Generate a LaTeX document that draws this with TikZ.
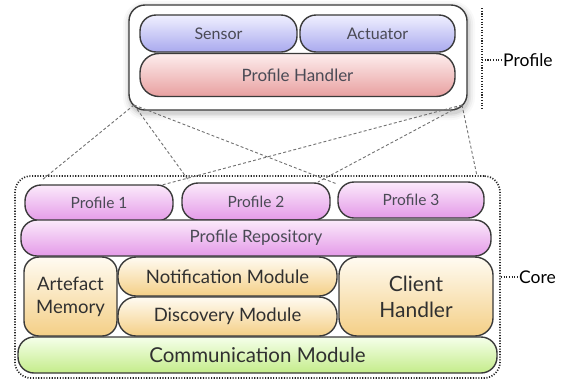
\documentclass[tikz,border=0pt]{standalone}
\usepackage{fontspec}
\setmainfont{Lato}
\usetikzlibrary{calc}
\definecolor{bordc}{HTML}{3A3A3A}
\definecolor{blueT}{HTML}{F0F0FF}
\definecolor{blueB}{HTML}{A9A9EE}
\definecolor{redT}{HTML}{FDEDED}
\definecolor{redB}{HTML}{E8A0A0}
\definecolor{pinkT}{HTML}{FBEAFB}
\definecolor{pinkB}{HTML}{E49AE8}
\definecolor{yelT}{HTML}{FFFBF2}
\definecolor{yelB}{HTML}{F4CF86}
\definecolor{grnT}{HTML}{F5FFEA}
\definecolor{grnB}{HTML}{C4EC8A}
\definecolor{txtA}{HTML}{4A4A55}
\definecolor{txtB}{HTML}{303030}
\definecolor{dashc}{HTML}{707070}
\begin{document}
\begin{tikzpicture}[x=1pt,y=-1pt,
  blk/.style={draw=bordc, line width=1.4pt, rounded corners=16pt, inner sep=0pt, align=center},
  bluebox/.style={blk, top color=blueT, bottom color=blueB, text=txtA, font=\fontsize{16}{18}\selectfont},
  redbox/.style={blk, top color=redT, bottom color=redB, text=txtA, font=\fontsize{17}{19}\selectfont, rounded corners=19pt},
  pinkbox/.style={blk, top color=pinkT, bottom color=pinkB, text=txtA, font=\fontsize{15.5}{17}\selectfont},
  yelbox/.style={blk, top color=yelT, bottom color=yelB, text=txtB},
  grnbox/.style={blk, top color=grnT, bottom color=grnB, text=txtB, font=\fontsize{20.5}{22}\selectfont},
  dotline/.style={draw=black!85, line width=1.7pt, dash pattern=on 1.1pt off 1.6pt},
  conn/.style={draw=dashc, line width=0.9pt, dash pattern=on 3pt off 2.2pt},
  lbl/.style={inner sep=0pt, anchor=west, text=black, font=\fontsize{17.5}{19}\selectfont}
]
\useasboundingbox (0,0) rectangle (561,381);

% shadow / glow of the profile block
\foreach \i/\o in {7/0.025,5/0.035,3/0.05,1.5/0.07}{
  \fill[black, opacity=\o, rounded corners=16pt+\i pt]
    (129-\i+1,5-\i+3) rectangle (467+\i+1,110+\i+3);
}
\node[draw=bordc, line width=1.4pt, fill=white, rounded corners=16pt,
  minimum width=338pt, minimum height=105pt, inner sep=0pt] (prof) at (298,57.5) {};

\node[bluebox, minimum width=157pt, minimum height=37pt] (sensor) at (218.5,33.5) {Sensor};
\node[bluebox, minimum width=155pt, minimum height=37pt] (act) at (377.5,33.5) {Actuator};
\node[redbox, minimum width=315pt, minimum height=43pt] (ph) at (297.5,75) {Profile Handler};

% Profile bracket
\coordinate (pt) at (482,8);
\coordinate (pb) at (482,108);
\draw[dotline] (pt) -- (pb);
\node[lbl] (plbl) at (503,60) {Profile};
\draw[dotline] (482,60) -- (plbl.west);

% core dotted box
\node[dotline, rounded corners=16pt, minimum width=485pt, minimum height=202pt, inner sep=0pt] (core) at (257.5,277) {};
\node[lbl] (clbl) at (519,277) {Core};
\draw[dotline] (core.east) -- (clbl.west);

% connector coordinates
\coordinate (L) at (134,105);
\coordinate (R) at (462,105);
\coordinate (e1) at (42,180);
\coordinate (e2) at (189,181);
\coordinate (e3) at (337,184);
\coordinate (f1) at (162,185);
\coordinate (f2) at (318,182);
\coordinate (f3) at (477,176);
\draw[conn] (L) -- (e1);
\draw[conn] (L) -- (e2);
\draw[conn] (L) -- (e3);
\draw[conn] (R) -- (f1);
\draw[conn] (R) -- (f2);
\draw[conn] (R) -- (f3);

% core modules
\node[pinkbox, minimum width=148pt, minimum height=36pt] (p1) at (99,203) {Profile 1};
\node[pinkbox, minimum width=148pt, minimum height=37pt] (p2) at (256,201.5) {Profile 2};
\node[pinkbox, minimum width=146pt, minimum height=36pt] (p3) at (411,200) {Profile 3};
\node[pinkbox, minimum width=470pt, minimum height=36pt, font=\fontsize{17}{19}\selectfont] (repo) at (256,238) {Profile Repository};
\node[yelbox, minimum width=93pt, minimum height=79pt, rounded corners=15pt, font=\fontsize{18.5}{23}\selectfont] (art) at (70.5,296.5) {Artefact\\Memory};
\node[yelbox, minimum width=219pt, minimum height=39pt, rounded corners=18pt, font=\fontsize{18.5}{20}\selectfont] (notif) at (227.5,276.5) {Notification Module};
\node[yelbox, minimum width=219pt, minimum height=39pt, rounded corners=18pt, font=\fontsize{18.5}{20}\selectfont] (disc) at (227.5,316.5) {Discovery Module};
\node[yelbox, minimum width=154pt, minimum height=79pt, rounded corners=18pt, font=\fontsize{21}{26}\selectfont] (client) at (416,296.5) {Client\\Handler};
\node[grnbox, minimum width=479pt, minimum height=36pt] (comm) at (257.5,355) {Communication Module};
\end{tikzpicture}
\end{document}
